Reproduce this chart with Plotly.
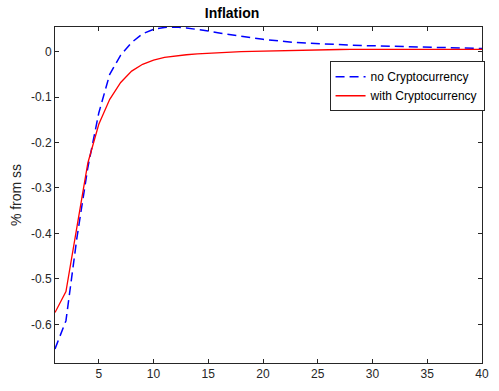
import plotly.graph_objects as go

periods = list(range(1, 41))
no_crypto = [-0.654, -0.592, -0.41, -0.255, -0.135, -0.05, -0.008, 0.02, 0.039, 0.049,
             0.053, 0.054, 0.052, 0.049, 0.045, 0.041, 0.037, 0.034, 0.030, 0.027,
             0.024, 0.022, 0.020, 0.0185, 0.0172, 0.016, 0.015, 0.014, 0.0133, 0.0127,
             0.012, 0.0113, 0.0106, 0.0099, 0.0093, 0.0087, 0.0081, 0.0076, 0.0071, 0.0067]
with_crypto = [-0.574, -0.528, -0.386, -0.245, -0.16, -0.105, -0.068, -0.043, -0.028, -0.019,
               -0.013, -0.0095, -0.007, -0.005, -0.0035, -0.0022, -0.0012, -0.0003, 0.0005, 0.0012,
               0.0018, 0.0024, 0.003, 0.0035, 0.0039, 0.0042, 0.0045, 0.0047, 0.0049, 0.005,
               0.0051, 0.0051, 0.0051, 0.0051, 0.005, 0.005, 0.005, 0.005, 0.0049, 0.0049]
x_ticks = [5, 10, 15, 20, 25, 30, 35, 40]
y_ticks = [0, -0.1, -0.2, -0.3, -0.4, -0.5, -0.6]
y_tick_text = ["0", "-0.1", "-0.2", "-0.3", "-0.4", "-0.5", "-0.6"]

font = "Liberation Sans, Arial, Helvetica, sans-serif"
axcol = "#262626"

fig = go.Figure()
fig.add_trace(go.Scatter(x=periods, y=no_crypto, mode="lines", name="no Cryptocurrency",
                         line=dict(color="#0000ff", width=1.5, dash="9px,5px")))
fig.add_trace(go.Scatter(x=periods, y=with_crypto, mode="lines", name="with Cryptocurrency",
                         line=dict(color="#ff0000", width=1.3)))

axis_common = dict(showgrid=False, zeroline=False, showline=True, linecolor=axcol, linewidth=1,
                   mirror="ticks", ticks="inside", ticklen=4, tickcolor=axcol, tickwidth=1,
                   tickfont=dict(family=font, size=12, color=axcol))

fig.update_layout(
    width=499, height=391,
    margin=dict(l=55, r=10, t=27, b=22),
    paper_bgcolor="white", plot_bgcolor="white",
    title=dict(text="<b>Inflation</b>", x=0.465, xanchor="center", y=0.966, yanchor="middle",
               font=dict(family=font, size=14, color="#000000")),
    xaxis=dict(range=[1, 40], tickvals=x_ticks, **axis_common),
    yaxis=dict(range=[-0.685, 0.054], tickvals=y_ticks, ticktext=y_tick_text,
               title=dict(text="% from ss", font=dict(family=font, size=14, color=axcol), standoff=6),
               **axis_common),
    legend=dict(x=0.643, y=0.898, xanchor="left", yanchor="top",
                bgcolor="white", bordercolor=axcol, borderwidth=1,
                font=dict(family=font, size=12, color="#000000"),
                tracegroupgap=0, itemwidth=30),
    showlegend=True,
)

fig.write_html("out.html")
